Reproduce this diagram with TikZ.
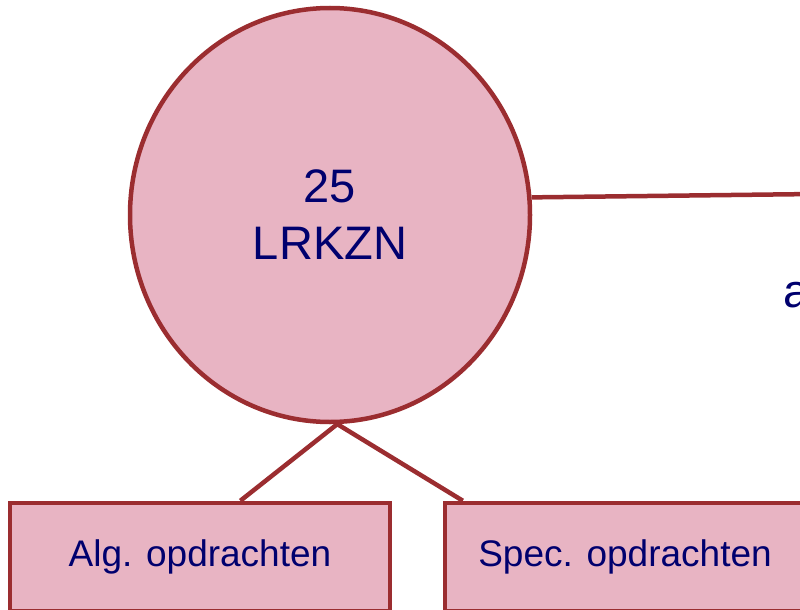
\documentclass[tikz,border=0pt]{standalone}
\usepackage{fontspec}
\setmainfont{Liberation Sans}
\usetikzlibrary{shapes.geometric,calc}
\definecolor{pinkfill}{RGB}{232,180,195}
\definecolor{darkred}{RGB}{155,45,48}
\definecolor{navytext}{RGB}{0,0,110}
\tikzset{
  edgeline/.style={draw=darkred,line width=4.5pt},
  bubble/.style={ellipse,draw=darkred,fill=pinkfill,line width=4.5pt,minimum width=400pt,minimum height=414pt,inner sep=0pt,text=navytext,align=center,font=\fontsize{47}{57}\selectfont},
  taskbox/.style={rectangle,draw=darkred,fill=pinkfill,line width=4.5pt,minimum height=108pt,inner sep=0pt,text=navytext,font=\fontsize{37}{44}\selectfont},
  sidetext/.style={text=navytext,font=\fontsize{47}{57}\selectfont,inner sep=0pt,anchor=base west}
}
\begin{document}
\begin{tikzpicture}[x=1pt,y=-1pt]
\clip (0,0) rectangle (800,610);
\node[bubble] (c) at (330,215) {25\\LRKZN};
\node[taskbox,minimum width=380pt] (a) at (200,557) {\raisebox{-3pt}{Alg. opdrachten}};
\node[taskbox,minimum width=360pt] (s) at (625,557) {\raisebox{-3pt}{Spec. opdrachten}};
\coordinate (rend) at (815,194);
\node[sidetext] (t) at (783,307) {a};
\draw[edgeline] (c.5) -- (rend);
\draw[edgeline] (c.-88) -- ($(a.north west)!0.605!(a.north east)$);
\draw[edgeline] (c.-88) -- ($(s.north west)!0.055!(s.north east)$);
\end{tikzpicture}
\end{document}
